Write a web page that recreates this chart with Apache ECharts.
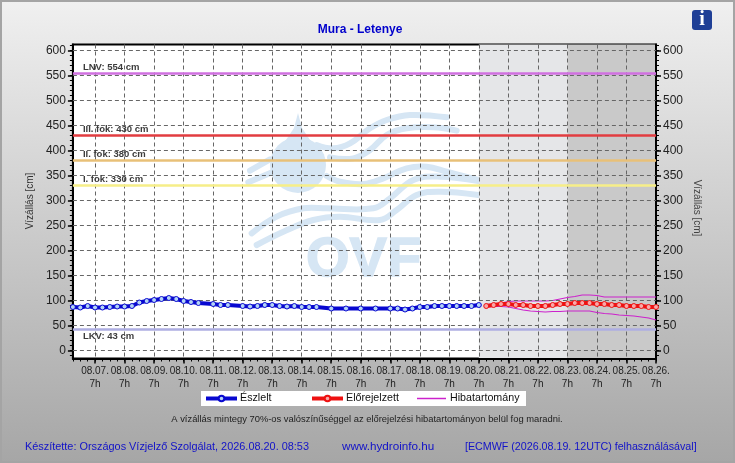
<!DOCTYPE html>
<html><head><meta charset="utf-8">
<style>html,body{margin:0;padding:0;background:#fff}#c{width:735px;height:463px}</style>
<script src="https://cdn.jsdelivr.net/npm/echarts@6/dist/echarts.min.js"></script>
</head><body><div id="c"></div>
<script>
const observed = [87,86,89,86,86,87,88,88,89,96,99,101,103,105,103,99,97,95,null,93,91,91,null,89,88,89,91,91,89,88,89,87,87,87,null,84,null,84,null,84,null,84,null,84,84,82,84,87,87,89,89,89,89,89,89,91];
const forecast = [89,91,93,93,91,91,89,89,89,91,93,93,95,95,95,93,93,91,91,89,89,89,87,87];
const upper = [92,93,95,98,99,99,99,99,99,100,103,106,108,111,111,110,107,107,107,107,107,107,107,107];
const lower = [87,88,88,87,84,81,79,78,77,78,78,79,79,79,79,76,74,73,71,70,69,67,65,61];
const thresholdNames = ['LNV: 554 cm','III. fok: 430 cm','II. fok: 380 cm','I. fok: 330 cm','LKV: 43 cm'];
const thresholdValues = [554,430,380,330,43];
const thresholdColors = ['#d070e0','#e23c40','#e8c078','#f6ee88','#aeaee2'];
const yTicks = [0,50,100,150,200,250,300,350,400,450,500,550,600];
const yMinorTicks = [-10,0,10,20,30,40,50,60,70,80,90,100,110,120,130,140,150,160,170,180,190,200,210,220,230,240,250,260,270,280,290,300,310,320,330,340,350,360,370,380,390,400,410,420,430,440,450,460,470,480,490,500,510,520,530,540,550,560,570,580,590,600,610];
const dayLabels = ['08.07.','08.08.','08.09.','08.10.','08.11.','08.12.','08.13.','08.14.','08.15.','08.16.','08.17.','08.18.','08.19.','08.20.','08.21.','08.22.','08.23.','08.24.','08.25.','08.26.'];

// six-hourly categories from 08.06. 13h to 08.26. 7h
const categories = ['a','b','c'];
dayLabels.forEach((d,i)=>{ categories.push(d+'\n7h'); if(i<dayLabels.length-1){categories.push(d+'13');categories.push(d+'19');categories.push(d+'01');} });
const isDay = (i)=> i>=3 && (i-3)%4===0;
const pad = (n,arr)=> new Array(n).fill(null).concat(arr);
const FONT = '"Liberation Sans", Arial, sans-serif';
const BLUE='#1212c8';

const wm = '#d6e6f4';
const z2p = a => a.map(p=>[240+p[0]/3,100+p[1]/3]);
const waves = [
 [[230,135],[280,145],[330,130],[390,85],[440,60],[510,45],[620,52]],
 [[270,172],[340,175],[390,150],[440,105],[500,85],[580,82],[650,92]],
 [[30,212],[90,178]],
 [[25,247],[100,215]],
 [[260,228],[300,245],[370,252],[430,235],[500,205],[560,200],[620,215],[715,240]],
 [[35,400],[110,350],[190,325],[260,325],[400,325],[450,295],[520,240],[600,230],[715,243]],
 [[50,435],[130,395],[220,360],[300,350],[420,360],[470,330],[530,285],[600,275],[715,285]]
];
const graphics = [
 {type:'rect',z:-1,shape:{x:1,y:1,width:733,height:461},style:{fill:'none',stroke:'#a4a4a4',lineWidth:2}},
 {type:'circle',z:1,shape:{cx:298,cy:165,r:28},style:{fill:wm}},
 {type:'polygon',z:1,shape:{points:[[298,113],[294,128],[286,140],[274,151],[322,151],[310,140],[302,128]]},style:{fill:wm}},
 ...waves.map(w=>({type:'polyline',z:1,shape:{points:z2p(w),smooth:0.4},style:{fill:null,stroke:wm,lineWidth:6,lineCap:'round'}})),
 {type:'text',z:1,x:306,y:233,style:{text:'OVF',fill:wm,stroke:wm,lineWidth:1.5,fontFamily:FONT,fontWeight:'bold',fontSize:56}},
 {type:'rect',z:5,shape:{x:692,y:10,width:20,height:20,r:3},style:{fill:'#1f3f96'}},
 {type:'text',z:6,x:702,y:20,style:{text:'i',fill:'#fff',align:'center',verticalAlign:'middle',font:'bold 20px "Liberation Serif", serif'}},
 {type:'rect',z:5,shape:{x:201,y:391,width:325,height:15},style:{fill:'#fff'}},
 {type:'text',z:6,x:360,y:30,style:{text:'Mura - Letenye',fill:'#0000cc',align:'center',verticalAlign:'middle',font:'bold 12px '+FONT}},
 {type:'text',z:6,x:367,y:419,style:{text:'A vízállás mintegy 70%-os valószínűséggel az előrejelzési hibatartományon belül fog maradni.',fill:'#222',align:'center',verticalAlign:'middle',font:'9.4px '+FONT}},
 {type:'text',z:6,x:25,y:447,style:{text:'Készítette: Országos Vízjelző Szolgálat, 2026.08.20. 08:53',fill:BLUE,verticalAlign:'middle',font:'10.9px '+FONT}},
 {type:'text',z:6,x:342,y:447,style:{text:'www.hydroinfo.hu',fill:BLUE,verticalAlign:'middle',font:'11.7px '+FONT}},
 {type:'text',z:6,x:465,y:447,style:{text:'[ECMWF (2026.08.19. 12UTC) felhasználásával]',fill:BLUE,verticalAlign:'middle',font:'10.7px '+FONT}},
 {type:'text',z:6,x:30,y:201,rotation:Math.PI/2,style:{text:'Vízállás [cm]',fill:'#333',align:'center',verticalAlign:'middle',font:'10px '+FONT}},
 {type:'text',z:6,x:697,y:208,rotation:-Math.PI/2,style:{text:'Vízállás [cm]',fill:'#444',align:'center',verticalAlign:'middle',font:'10px '+FONT}}
];

const yMajor = {
 type:'value',min:-16,max:612,z:2,splitLine:{show:false},
 axisLine:{show:true,onZero:false,lineStyle:{color:'#000',width:2}},
 axisTick:{show:true,length:5,customValues:yTicks,lineStyle:{color:'#000',width:1.5}},
 axisLabel:{color:'#222',fontFamily:FONT,fontSize:12,margin:7,customValues:yTicks}
};
const yMinor = {
 type:'value',min:-16,max:612,z:2,splitLine:{show:false},
 axisLine:{show:false,onZero:false},axisLabel:{show:false},
 axisTick:{show:true,length:3,customValues:yMinorTicks,lineStyle:{color:'#000',width:1}}
};
const legendBase = {top:393,padding:0,itemWidth:31,itemHeight:7,z:7,lineStyle:{width:4},textStyle:{fontFamily:FONT,fontSize:10.7,color:'#111',padding:[0,0,0,-2]}};

const option = {
 animation:false,
 backgroundColor:{type:'linear',x:0,y:0,x2:0,y2:1,colorStops:[{offset:0,color:'#f0f0f0'},{offset:1,color:'#a6a6a6'}]},
 graphic:graphics,
 grid:{left:72.9,right:79,top:44.5,bottom:104.5,show:true,backgroundColor:'#fff',borderColor:'#000',borderWidth:2,z:0},
 legend:[
  {...legendBase,left:204,data:['Észlelt']},
  {...legendBase,left:310,data:['Előrejelzett']},
  {...legendBase,left:417,itemWidth:29,itemHeight:1.5,lineStyle:{width:0},data:[{name:'Hibatartomány',icon:'rect'}],textStyle:{...legendBase.textStyle,padding:[0,0,0,-1]}}
 ],
 xAxis:[
  {type:'category',data:categories,boundaryGap:false,z:2,
   axisLine:{show:true,onZero:false,lineStyle:{color:'#000',width:2}},
   axisTick:{show:true,length:5,interval:isDay,lineStyle:{color:'#000',width:1.5}},
   axisLabel:{show:true,interval:isDay,color:'#222',fontFamily:FONT,fontSize:10,lineHeight:13,margin:6,hideOverlap:false},
   splitLine:{show:true,interval:isDay,lineStyle:{color:'#666',type:[4,3],width:1}}},
  {type:'category',data:categories,boundaryGap:false,position:'bottom',z:2,
   axisLine:{show:false,onZero:false},axisLabel:{show:false},
   axisTick:{show:true,length:3,interval:0,lineStyle:{color:'#000',width:1}},splitLine:{show:false}}
 ],
 yAxis:[
  {...yMajor,position:'left'},
  {...yMajor,position:'right'},
  {...yMinor,position:'left'},
  {...yMinor,position:'right'}
 ],
 series:[
  {name:'shade',type:'line',data:[],z:1,silent:true,
   markArea:{silent:true,z:1,data:[
    [{xAxis:categories[55],itemStyle:{color:'#e5e6e8'}},{xAxis:categories[67]}],
    [{xAxis:categories[67],itemStyle:{color:'#c9c9c9'}},{xAxis:categories[79]}]
   ]}},
  {name:'gridY',type:'line',data:[],z:2,silent:true,
   markLine:{silent:true,symbol:'none',animation:false,label:{show:false},
    lineStyle:{color:'#666',type:[4,3],width:1},data:yTicks.map(v=>({yAxis:v}))}},
  {name:'limits',type:'line',data:[],z:3,silent:true,
   markLine:{silent:true,symbol:'none',animation:false,
    data:thresholdValues.map((v,i)=>({yAxis:v,name:thresholdNames[i],
      lineStyle:{color:thresholdColors[i],width:2.5,type:'solid'},
      label:{show:true,formatter:thresholdNames[i],position:i===4?'insideStartBottom':'insideStartTop',distance:i===4?[10,2]:[10,1],color:'#3c3c3c',fontFamily:FONT,fontWeight:'bold',fontSize:9.5}}))}},
  {name:'Hibatartomány',type:'line',data:pad(56,upper),z:4,symbol:'none',color:'#cc22cc',lineStyle:{color:'#cc22cc',width:1.2}},
  {name:'hiba2',type:'line',data:pad(56,lower),z:4,symbol:'none',lineStyle:{color:'#cc22cc',width:1.2}},
  {name:'Előrejelzett',type:'line',data:pad(56,forecast),z:5,symbol:'circle',symbolSize:5,showAllSymbol:true,color:'#ee1111',
   lineStyle:{color:'#ee1111',width:4},itemStyle:{color:'#f8a8a8',borderColor:'#ee1111',borderWidth:1}},
  {name:'Észlelt',type:'line',data:observed,z:6,connectNulls:true,symbol:'circle',symbolSize:5,showAllSymbol:true,color:'#0808d0',
   lineStyle:{color:'#0808d0',width:4},itemStyle:{color:'#b4d4f6',borderColor:'#0808d0',borderWidth:1}}
 ]
};
const chart = echarts.init(document.getElementById('c'),null,{width:735,height:463});
chart.setOption(option);
</script></body></html>
